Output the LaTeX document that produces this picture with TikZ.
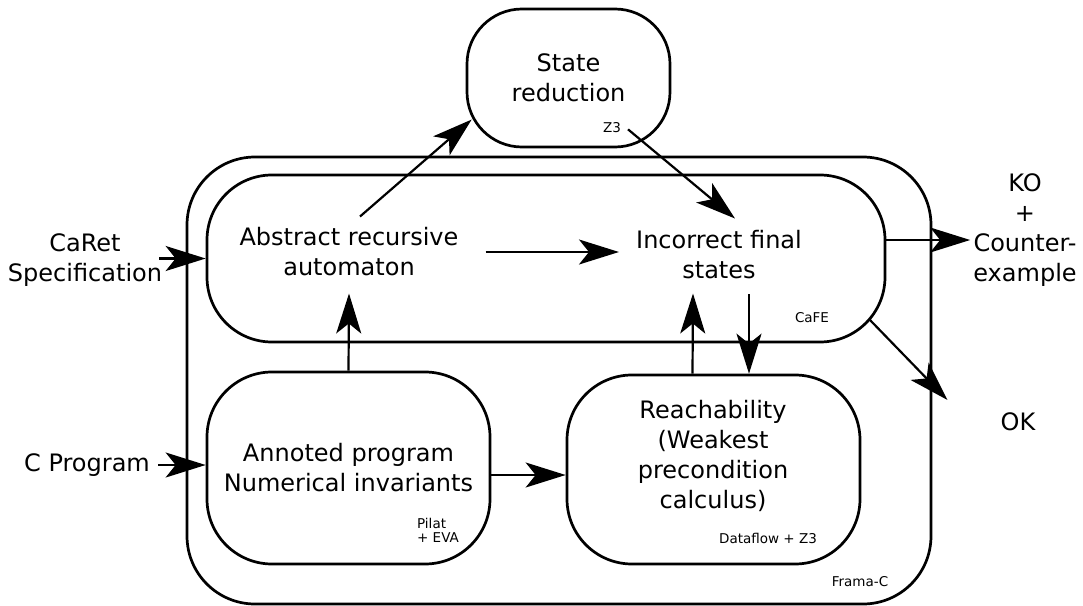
\documentclass[tikz,border=0pt]{standalone}
\usepackage{fontspec}
\setmainfont{DejaVu Sans}
\usetikzlibrary{arrows.meta,positioning}
\tikzset{
    round-box/.style = {draw=black, line width=2.7pt, rectangle, rounded corners=#1, inner sep=0pt, align=center, font=\fontsize{24}{30}\selectfont},
    plain-text/.style = {align=center, inner sep=0pt, font=\fontsize{24}{30}\selectfont},
    tool-label/.style = {align=left, inner sep=0pt, font=\fontsize{13.5}{14}\selectfont},
    flow-arrow/.style = {-{Stealth[length=40pt,width=25pt,inset=10pt]}, line width=2.2pt},
}

\begin{document}
\begin{tikzpicture}[x=1pt,y=-1pt]
\useasboundingbox (0,0) rectangle (1083,605);
% boxes
\node [round-box=68pt, minimum width=744pt, minimum height=447pt] (framac) at (559,380.5) {};
\node [round-box=65pt, minimum width=678pt, minimum height=167pt] (cafe) at (546,258.5) {};
\node [round-box=55pt, minimum width=203pt, minimum height=138pt] (reduction) at (568.5,78) {State\\reduction};
\node [round-box=65pt, minimum width=283pt, minimum height=192pt] (annot) at (348.5,468) {Annoted program\\Numerical invariants};
\node [round-box=65pt, minimum width=293pt, minimum height=189pt] (reach) at (713.5,469.5) {};
\node [plain-text] (reachtext) at (713,456) {Reachability\\(Weakest\\precondition\\calculus)};

% texts
\node [plain-text] (abstract) at (349,252) {Abstract recursive\\automaton};
\node [plain-text] (incorrect) at (719,255) {Incorrect final\\states};
\node [plain-text] (caret) at (85,260) {CaRet\\Specification};
\node [plain-text] (cprog) at (87,465) {C Program};
\node [plain-text] (ko) at (1025,230) {KO\\+\\Counter-\\example};
\node [plain-text] (ok) at (1018,422) {OK};

% tools
\node [tool-label] (z3) at (612,128) {Z3};
\node [tool-label] (cafename) at (812,318) {CaFE};
\node [tool-label] (pilat) at (438,530) {Pilat\\+ EVA};
\node [tool-label] (dataflow) at (768,538) {Dataflow + Z3};
\node [tool-label] (framaname) at (860,582) {Frama-C};

% flows
\draw [flow-arrow] ([xshift=-3pt]caret.east |- cafe.west) -- (cafe.west);
\draw [flow-arrow] ([xshift=8pt]cprog.east) -- (cprog.east -| annot.west);
\draw [flow-arrow] ([xshift=11pt,yshift=11pt]abstract.north) -- ([xshift=6pt]reduction.202);
\draw [flow-arrow] ([xshift=59.5pt,yshift=19pt]reduction.south) -- ([xshift=16pt,yshift=12pt]incorrect.north);
\draw [flow-arrow] ([xshift=27pt]abstract.east) -- ([xshift=-17pt]incorrect.west |- abstract.east);
\draw [flow-arrow] (annot.north) -- ([yshift=-17pt]abstract.south);
\draw [flow-arrow] ([yshift=-7pt]annot.east) -- ([yshift=-5.5pt]reach.west);
\draw [flow-arrow] ([xshift=-21pt]reach.north) -- ([xshift=-26pt,yshift=-14pt]incorrect.south);
\draw [flow-arrow] ([xshift=30pt,yshift=-15pt]incorrect.south) -- ([xshift=35.5pt]reach.north);
\draw [flow-arrow] ([yshift=18.5pt]cafe.east) coordinate (kofrom) -- ([xshift=-3pt]kofrom -| ko.west);
\draw [flow-arrow] ([xshift=-17pt,yshift=24pt]cafe.south east) -- ([xshift=-53pt,yshift=22pt]ok.west);
\end{tikzpicture}
\end{document}
